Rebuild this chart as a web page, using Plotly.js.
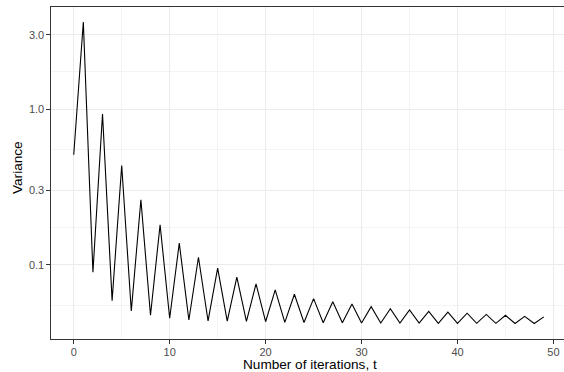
<!DOCTYPE html>
<html>
<head>
<meta charset="utf-8">
<script src="https://cdn.plot.ly/plotly-3.0.1.min.js"></script>
<style>html,body{margin:0;padding:0;background:#fff;}#chart{width:564px;height:372px;}</style>
</head>
<body>
<div id="chart"></div>
<script>
const iterations = Array.from({length: 50}, (_, i) => i);
const variance = [
  0.509, 3.62, 0.0898, 0.929, 0.059, 0.434, 0.0506, 0.262, 0.0475, 0.181,
  0.0455, 0.138, 0.0443, 0.112, 0.0437, 0.0953, 0.0436, 0.0834, 0.0434, 0.0755,
  0.0432, 0.0691, 0.0428, 0.0648, 0.0427, 0.0608, 0.0426, 0.0581, 0.0425, 0.0562,
  0.0424, 0.054, 0.0424, 0.0524, 0.0423, 0.0514, 0.0423, 0.0504, 0.0422, 0.0498,
  0.0422, 0.049, 0.0422, 0.0481, 0.0422, 0.0475, 0.0421, 0.0468, 0.0421, 0.0464
];
const xTickVals = [0, 10, 20, 30, 40, 50];
const xMinorVals = [5, 15, 25, 35, 45];
const yTickVals = [3.0, 1.0, 0.3, 0.1];
const yTickText = ["3.0", "1.0", "0.3", "0.1"];
const yMinorVals = [1.732, 0.5477, 0.1732, 0.05477];
const xTitle = "Number of iterations, t";
const yTitle = "Variance";

const font = "Liberation Sans, Arial, Helvetica, sans-serif";

const trace = {
  x: iterations,
  y: variance,
  type: "scatter",
  mode: "lines",
  line: {color: "#000000", width: 1.1},
  hoverinfo: "x+y"
};

const layout = {
  width: 564,
  height: 372,
  margin: {l: 51, r: 0, t: 7, b: 33},
  paper_bgcolor: "#ffffff",
  plot_bgcolor: "#ffffff",
  showlegend: false,
  font: {family: font},
  xaxis: {
    range: [-2.37, 51.1],
    tickmode: "array",
    tickvals: xTickVals,
    ticks: "outside",
    ticklen: 3.5,
    tickwidth: 1,
    tickcolor: "#333333",
    ticklabelstandoff: -1,
    tickfont: {family: font, size: 11, color: "#4d4d4d"},
    showgrid: true,
    gridcolor: "#ebebeb",
    gridwidth: 1.1,
    minor: {tickmode: "array", tickvals: xMinorVals, showgrid: true, gridcolor: "#ebebeb", gridwidth: 0.55, ticks: ""},
    zeroline: false,
    showline: true,
    mirror: true,
    linecolor: "#333333",
    linewidth: 1.1
  },
  yaxis: {
    type: "log",
    range: [-1.4753, 0.655],
    tickmode: "array",
    tickvals: yTickVals,
    ticktext: yTickText,
    ticks: "outside",
    ticklen: 3.5,
    tickwidth: 1,
    tickcolor: "#333333",
    tickfont: {family: font, size: 11, color: "#4d4d4d"},
    showgrid: true,
    gridcolor: "#ebebeb",
    gridwidth: 1.1,
    minor: {tickmode: "array", tickvals: yMinorVals, showgrid: true, gridcolor: "#ebebeb", gridwidth: 0.55, ticks: ""},
    zeroline: false,
    showline: true,
    mirror: false,
    linecolor: "#333333",
    linewidth: 1.1
  },
  annotations: [
    {
      text: xTitle, xref: "paper", yref: "paper", x: 0.505, y: 0,
      xanchor: "center", yanchor: "top", yshift: -16.5, showarrow: false,
      font: {family: font, size: 13.6, color: "#000000"}, borderpad: 0
    },
    {
      text: yTitle, xref: "paper", yref: "paper", x: 0, y: 0.5,
      xanchor: "center", yanchor: "middle", xshift: -33.5, yshift: 5.5, textangle: -90, showarrow: false,
      font: {family: font, size: 13.6, color: "#000000"}, borderpad: 0
    }
  ]
};

Plotly.newPlot("chart", [trace], layout, {displayModeBar: false, staticPlot: true});
</script>
</body>
</html>
